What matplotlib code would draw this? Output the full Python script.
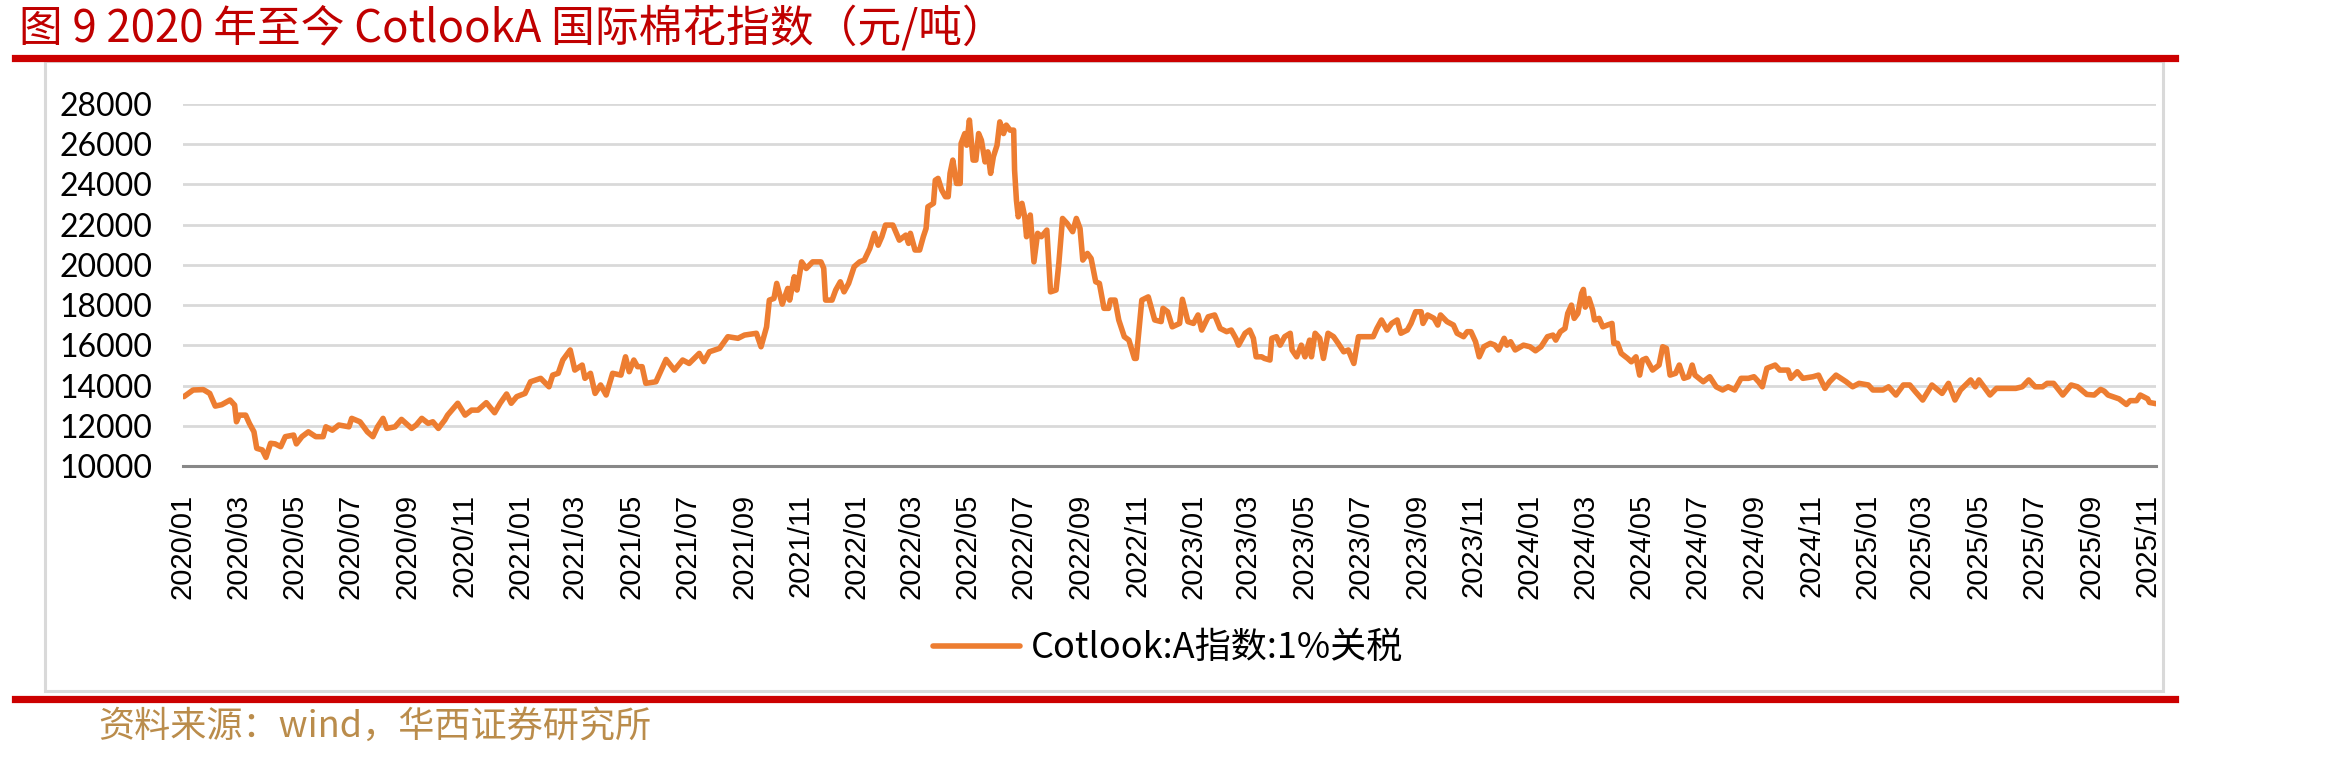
import matplotlib
matplotlib.use("Agg")
import matplotlib.pyplot as plt
import matplotlib.dates as mdates
import pandas as pd
from matplotlib.patches import Rectangle
from matplotlib.lines import Line2D

plt.rcParams['font.family'] = ['Noto Sans CJK SC', 'DejaVu Sans']

# =========================================
# TEXT
# =========================================
TITLE = "图 9 2020 年至今 CotlookA 国际棉花指数（元/吨）"
SOURCE = "资料来源：wind，华西证券研究所"
SERIES_NAME = "Cotlook:A指数:1%关税"

# =========================================
# DATA
# =========================================
dates = [
    "2020-01-02", "2020-01-12", "2020-01-23", "2020-01-30", "2020-02-05", "2020-02-12", "2020-02-21", "2020-02-26",
    "2020-02-28", "2020-03-02", "2020-03-09", "2020-03-13", "2020-03-18", "2020-03-21", "2020-03-27", "2020-03-31",
    "2020-04-05", "2020-04-10", "2020-04-16", "2020-04-21", "2020-04-30", "2020-05-03", "2020-05-09", "2020-05-16",
    "2020-05-24", "2020-06-01", "2020-06-04", "2020-06-11", "2020-06-18", "2020-06-29", "2020-07-02", "2020-07-11",
    "2020-07-19", "2020-07-25", "2020-07-30", "2020-08-05", "2020-08-09", "2020-08-18", "2020-08-25", "2020-09-05",
    "2020-09-10", "2020-09-16", "2020-09-23", "2020-09-28", "2020-10-04", "2020-10-11", "2020-10-14", "2020-10-25",
    "2020-11-02", "2020-11-09", "2020-11-16", "2020-11-25", "2020-12-04", "2020-12-10", "2020-12-17", "2020-12-22",
    "2020-12-28", "2021-01-06", "2021-01-12", "2021-01-23", "2021-02-01", "2021-02-05", "2021-02-11", "2021-02-16",
    "2021-02-24", "2021-03-01", "2021-03-09", "2021-03-12", "2021-03-18", "2021-03-23", "2021-03-29", "2021-04-04",
    "2021-04-11", "2021-04-20", "2021-04-25", "2021-04-29", "2021-05-04", "2021-05-08", "2021-05-13", "2021-05-17",
    "2021-05-28", "2021-06-08", "2021-06-17", "2021-06-26", "2021-07-03", "2021-07-14", "2021-07-19", "2021-07-25",
    "2021-08-05", "2021-08-14", "2021-08-25", "2021-09-01", "2021-09-14", "2021-09-19", "2021-09-25", "2021-09-28",
    "2021-10-03", "2021-10-06", "2021-10-12", "2021-10-18", "2021-10-20", "2021-10-25", "2021-10-28", "2021-11-02",
    "2021-11-07", "2021-11-14", "2021-11-23", "2021-11-26", "2021-11-28", "2021-12-05", "2021-12-09", "2021-12-14",
    "2021-12-18", "2021-12-23", "2021-12-29", "2022-01-04", "2022-01-09", "2022-01-15", "2022-01-20", "2022-01-24",
    "2022-01-28", "2022-02-01", "2022-02-09", "2022-02-16", "2022-02-23", "2022-02-26", "2022-02-28", "2022-03-05",
    "2022-03-10", "2022-03-14", "2022-03-17", "2022-03-19", "2022-03-25", "2022-03-27", "2022-03-30", "2022-04-03",
    "2022-04-07", "2022-04-10", "2022-04-12", "2022-04-15", "2022-04-19", "2022-04-23", "2022-04-24", "2022-04-28",
    "2022-04-30", "2022-05-03", "2022-05-07", "2022-05-10", "2022-05-13", "2022-05-16", "2022-05-20", "2022-05-23",
    "2022-05-26", "2022-05-29", "2022-06-02", "2022-06-05", "2022-06-09", "2022-06-12", "2022-06-16", "2022-06-20",
    "2022-06-21", "2022-06-23", "2022-06-25", "2022-06-29", "2022-07-02", "2022-07-04", "2022-07-08", "2022-07-12",
    "2022-07-16", "2022-07-20", "2022-07-26", "2022-07-30", "2022-08-05", "2022-08-08", "2022-08-12", "2022-08-17",
    "2022-08-23", "2022-08-27", "2022-08-31", "2022-09-03", "2022-09-08", "2022-09-12", "2022-09-17", "2022-09-21",
    "2022-09-26", "2022-10-01", "2022-10-03", "2022-10-08", "2022-10-12", "2022-10-18", "2022-10-23", "2022-10-29",
    "2022-10-31", "2022-11-06", "2022-11-13", "2022-11-20", "2022-11-27", "2022-11-29", "2022-12-04", "2022-12-09",
    "2022-12-17", "2022-12-20", "2022-12-26", "2023-01-01", "2023-01-06", "2023-01-10", "2023-01-17", "2023-01-24",
    "2023-01-30", "2023-02-06", "2023-02-11", "2023-02-16", "2023-02-19", "2023-02-26", "2023-03-03", "2023-03-07",
    "2023-03-10", "2023-03-16", "2023-03-19", "2023-03-25", "2023-03-27", "2023-04-01", "2023-04-05", "2023-04-10",
    "2023-04-16", "2023-04-18", "2023-04-23", "2023-04-28", "2023-05-02", "2023-05-07", "2023-05-09", "2023-05-13",
    "2023-05-18", "2023-05-22", "2023-05-27", "2023-06-02", "2023-06-07", "2023-06-13", "2023-06-18", "2023-06-24",
    "2023-06-29", "2023-07-06", "2023-07-15", "2023-07-19", "2023-07-24", "2023-07-30", "2023-08-04", "2023-08-10",
    "2023-08-14", "2023-08-21", "2023-08-25", "2023-08-30", "2023-09-05", "2023-09-07", "2023-09-12", "2023-09-19",
    "2023-09-23", "2023-09-26", "2023-10-03", "2023-10-10", "2023-10-14", "2023-10-21", "2023-10-25", "2023-10-29",
    "2023-11-03", "2023-11-07", "2023-11-12", "2023-11-19", "2023-11-24", "2023-11-28", "2023-12-04", "2023-12-07",
    "2023-12-11", "2023-12-16", "2023-12-25", "2024-01-01", "2024-01-07", "2024-01-13", "2024-01-20", "2024-01-26",
    "2024-01-29", "2024-02-03", "2024-02-08", "2024-02-11", "2024-02-15", "2024-02-18", "2024-02-22", "2024-02-26",
    "2024-02-28", "2024-03-01", "2024-03-05", "2024-03-09", "2024-03-11", "2024-03-16", "2024-03-20", "2024-03-25",
    "2024-03-30", "2024-04-01", "2024-04-05", "2024-04-09", "2024-04-16", "2024-04-20", "2024-04-25", "2024-04-29",
    "2024-05-02", "2024-05-06", "2024-05-13", "2024-05-20", "2024-05-24", "2024-05-28", "2024-06-01", "2024-06-07",
    "2024-06-11", "2024-06-16", "2024-06-21", "2024-06-25", "2024-06-28", "2024-07-07", "2024-07-14", "2024-07-21",
    "2024-07-28", "2024-08-03", "2024-08-10", "2024-08-17", "2024-08-25", "2024-08-31", "2024-09-05", "2024-09-09",
    "2024-09-14", "2024-09-23", "2024-09-28", "2024-10-07", "2024-10-10", "2024-10-17", "2024-10-23", "2024-11-03",
    "2024-11-09", "2024-11-16", "2024-11-21", "2024-11-28", "2024-12-09", "2024-12-16", "2024-12-23", "2025-01-02",
    "2025-01-07", "2025-01-18", "2025-01-24", "2025-02-01", "2025-02-09", "2025-02-16", "2025-02-22", "2025-03-02",
    "2025-03-12", "2025-03-23", "2025-03-30", "2025-04-06", "2025-04-12", "2025-04-23", "2025-04-28", "2025-05-02",
    "2025-05-14", "2025-05-21", "2025-06-11", "2025-06-18", "2025-06-25", "2025-07-02", "2025-07-10", "2025-07-15",
    "2025-07-22", "2025-08-01", "2025-08-10", "2025-08-17", "2025-08-27", "2025-09-04", "2025-09-11", "2025-09-15",
    "2025-09-19", "2025-10-01", "2025-10-09", "2025-10-13", "2025-10-20", "2025-10-24", "2025-11-01", "2025-11-03",
    "2025-11-10",
]

values = [
    13450, 13780, 13800, 13610, 12980, 13050, 13280, 13030,
    12200, 12530, 12530, 12120, 11700, 10880, 10800, 10430,
    11130, 11100, 10960, 11460, 11540, 11100, 11460, 11700,
    11460, 11460, 11950, 11780, 12040, 11950, 12370, 12200,
    11700, 11460, 11950, 12370, 11870, 11950, 12320, 11870,
    12040, 12370, 12120, 12200, 11870, 12290, 12530, 13120,
    12530, 12780, 12780, 13150, 12650, 13120, 13580, 13120,
    13450, 13610, 14190, 14360, 13940, 14520, 14610, 15270,
    15770, 14770, 15020, 14360, 14610, 13610, 14030, 13530,
    14610, 14520, 15430, 14690, 15270, 14940, 14940, 14110,
    14190, 15300, 14770, 15270, 15100, 15600, 15190, 15680,
    15850, 16430, 16350, 16510, 16600, 15930, 16920, 18250,
    18330, 19080, 18050, 18830, 18250, 19410, 18750, 20150,
    19820, 20150, 20150, 19830, 18250, 18250, 18750, 19160,
    18660, 19080, 19910, 20150, 20240, 20820, 21570, 20980,
    21400, 21980, 21980, 21230, 21480, 21070, 21570, 20740,
    20740, 21400, 21810, 22890, 23060, 24210, 24300, 23720,
    23390, 23390, 24550, 25210, 24050, 24050, 26040, 26530,
    25950, 27200, 25210, 25210, 26530, 26200, 25120, 25620,
    24550, 25380, 25950, 27110, 26530, 26950, 26700, 26700,
    24710, 23220, 22390, 23060, 22390, 21400, 22480, 20150,
    21570, 21400, 21730, 18660, 18750, 20070, 22310, 22060,
    21650, 22310, 21810, 20240, 20570, 20320, 19160, 19080,
    17840, 17840, 18250, 18250, 17260, 16430, 16260, 15350,
    15350, 18250, 18410, 17260, 17180, 17840, 17670, 16920,
    17090, 18290, 17180, 17090, 17510, 16760, 17420, 17510,
    16840, 16680, 16760, 16350, 16010, 16600, 16760, 16350,
    15430, 15430, 15350, 15270, 16350, 16430, 16010, 16430,
    16600, 15770, 15430, 16010, 15430, 16260, 15430, 16600,
    16350, 15350, 16600, 16430, 16100, 15680, 15770, 15100,
    16430, 16430, 16430, 16840, 17260, 16760, 17090, 17260,
    16600, 16760, 17090, 17670, 17670, 17090, 17510, 17340,
    17010, 17510, 17180, 17010, 16600, 16430, 16680, 16680,
    16180, 15430, 15930, 16100, 16010, 15770, 16350, 16010,
    16180, 15770, 16010, 15930, 15730, 15930, 16430, 16510,
    16260, 16680, 16840, 17590, 18000, 17340, 17590, 18580,
    18780, 17900, 18330, 17760, 17260, 17340, 16920, 17010,
    17090, 16100, 16100, 15600, 15350, 15180, 15430, 14520,
    15270, 15350, 14770, 15020, 15930, 15850, 14520, 14610,
    15020, 14360, 14440, 15020, 14520, 14190, 14440, 13940,
    13780, 13940, 13780, 14360, 14360, 14440, 14190, 13940,
    14860, 15020, 14770, 14770, 14360, 14690, 14360, 14440,
    14520, 13860, 14190, 14520, 14190, 13940, 14110, 14030,
    13780, 13780, 13940, 13530, 14030, 14030, 13700, 13280,
    14030, 13610, 14110, 13280, 13780, 14280, 13940, 14280,
    13530, 13860, 13860, 13940, 14280, 13940, 13940, 14110,
    14110, 13530, 14030, 13940, 13560, 13530, 13810, 13720,
    13530, 13340, 13060, 13250, 13250, 13530, 13340, 13160,
    13100,
]

y_ticks = [10000, 12000, 14000, 16000, 18000, 20000, 22000, 24000, 26000, 28000]
x_start = "2020-01-01"
x_end = "2025-11-10"

# =========================================
# COLORS
# =========================================
LINE_COLOR = "#ED7D31"
RED = "#CC0000"
GRID = "#D9D9D9"
SOURCE_COLOR = "#BA8C4B"

# =========================================
# FIGURE
# =========================================
fig = plt.figure(figsize=(23.31, 7.59), dpi=100)

# outer frame + red rules
fig.patches.append(Rectangle((0.0193, 0.0896), 0.9086, 0.830, transform=fig.transFigure,
                             fill=False, edgecolor=GRID, linewidth=2.2, zorder=0))
fig.lines.append(Line2D([0.0064, 0.933], [0.9242, 0.9242], transform=fig.transFigure,
                        color=RED, linewidth=5.2))
fig.lines.append(Line2D([0.0064, 0.933], [0.0797, 0.0797], transform=fig.transFigure,
                        color=RED, linewidth=5.2))

fig.text(0.008, 0.963, TITLE, fontsize=31.5, color="#C00000", ha="left", va="center")
fig.text(0.042, 0.042, SOURCE, fontsize=26, color=SOURCE_COLOR, ha="left", va="center")

# =========================================
# AXES
# =========================================
ax = fig.add_axes([0.0785, 0.386, 0.8464, 0.477])

ax.plot(pd.to_datetime(dates), values, color=LINE_COLOR, linewidth=4.0,
        solid_joinstyle="round", solid_capstyle="round", label=SERIES_NAME, zorder=3)

ax.set_ylim(10000, 28000)
ax.set_xlim(pd.Timestamp(x_start), pd.Timestamp(x_end))

ax.set_yticks(y_ticks)
ax.set_yticklabels([str(v) for v in y_ticks], fontfamily="Lato", fontsize=23)
ax.grid(axis="y", color=GRID, linewidth=2.0, zorder=0)

ax.xaxis.set_major_locator(mdates.MonthLocator(bymonth=[1, 3, 5, 7, 9, 11]))
ax.xaxis.set_major_formatter(mdates.DateFormatter("%Y/%m"))
for lab in ax.get_xticklabels():
    lab.set_fontfamily("Liberation Sans")
    lab.set_fontsize(21)
    lab.set_rotation(90)

ax.tick_params(axis="x", length=0, pad=20)
ax.tick_params(axis="y", length=0, pad=22)

for side in ["top", "right", "left"]:
    ax.spines[side].set_visible(False)
ax.spines["bottom"].set_color("#888888")
ax.spines["bottom"].set_linewidth(2.2)
ax.spines["bottom"].set_zorder(4)

# =========================================
# LEGEND
# =========================================
ax.legend(loc="center", bbox_to_anchor=(0.501, 0.146), bbox_transform=fig.transFigure,
          frameon=False, fontsize=26, handlelength=2.4, handletextpad=0.3)

fig.savefig("out.png", dpi=100)
